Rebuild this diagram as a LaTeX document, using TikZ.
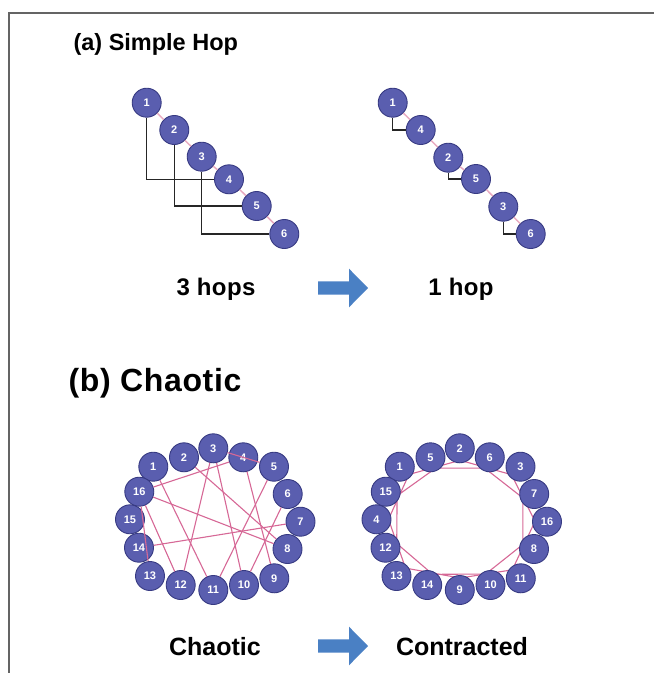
\documentclass[tikz,border=0pt]{standalone}
\usepackage{fontspec}
\setmainfont{Liberation Sans}
\usetikzlibrary{calc,backgrounds}

\definecolor{nodeblue}{RGB}{90,94,175}
\definecolor{nodeedge}{RGB}{55,58,130}
\definecolor{linkpink}{RGB}{214,104,150}
\definecolor{chainpink}{RGB}{232,170,192}
\definecolor{arrowblue}{RGB}{74,128,196}
\definecolor{framegray}{RGB}{100,100,100}

\begin{document}
\begin{tikzpicture}[x=1pt,y=-1pt,
    ball/.style={circle,fill=nodeblue,draw=nodeedge,line width=0.9pt,minimum size=29pt,
      inner sep=0pt,text=white,font=\bfseries\fontsize{11}{11}\selectfont},
    hop/.style={line width=1.3pt,black!85},
    chain/.style={line width=1.5pt,chainpink},
    link/.style={line width=1.1pt,linkpink},
    caption/.style={font=\bfseries\fontsize{24}{24}\selectfont\addfontfeature{LetterSpace=1.5}}]
  \useasboundingbox (0,0) rectangle (654,673);
  \draw[framegray,line width=1.6pt] (9,673) -- (9,13) -- (654,13);

  % (a) simple hop
  \node[anchor=west,font=\bfseries\fontsize{23.5}{24}\selectfont] (titlea) at (70,44) {(a) Simple Hop};
  \foreach \n/\x/\y in {1/146.7/102.7, 2/174.3/130, 3/201.7/156.7, 4/229/179.3, 5/256.7/206, 6/284.3/234}
    \node[ball] (a\n) at (\x,\y) {\n};
  \foreach \n/\x/\y in {1/392.7/102.7, 4/420.7/130, 2/448.3/157.7, 5/476/179, 3/503.3/206.7, 6/530.7/234}
    \node[ball] (b\n) at (\x,\y) {\n};
  \foreach \p/\q in {1/2,2/3,3/4,4/5,5/6} \draw[chain] (a\p) -- (a\q);
  \foreach \p/\q in {1/4,4/2,2/5,5/3,3/6} \draw[chain] (b\p) -- (b\q);
  \foreach \p/\q in {1/4,2/5,3/6} {
    \draw[hop] (a\p) |- (a\q);
    \draw[hop] (b\p) |- (b\q);
  }
  \node[caption] (hopsl) at (216,289) {3 hops};
  \node[caption] (hopsr) at (461,289) {1 hop};

  % block arrows
  \foreach \y in {288,646}
    \fill[arrowblue] (318,\y-6.7) -- (349,\y-6.7) -- (349,\y-19.3) -- (368,\y)
      -- (349,\y+19.3) -- (349,\y+6.7) -- (318,\y+6.7) -- cycle;

  % (b) chaotic
  \node[anchor=west,font=\bfseries\fontsize{32}{32}\selectfont\addfontfeature{LetterSpace=2}] (titleb) at (65,383) {(b) Chaotic};
  \foreach \x/\y [count=\i] in {153.3/466.7, 184/457.3, 213.3/448.3, 243.3/457.3, 274/466.7,
      287.7/494, 300.5/521.7, 287.5/549, 274.3/578.3, 244/585, 213.3/590, 180.7/585,
      150/576, 139/547.7, 130/519.3, 139.3/491.7}
    \coordinate (s\i) at (\x,\y);
  \foreach \i in {1,...,16}
    \node[ball] (c\i) at (s\i) {\i};
  \foreach \n [count=\i] in {1,5,2,6,3,7,16,8,11,10,9,14,13,12,4,15}
    \node[ball] (k\n) at ($(s\i)+(246.5,0)$) {\n};
  \foreach \p/\q in {16/4,16/8,16/12,16/13,1/11,2/8,3/5,3/12,3/10,4/9,5/11,6/10,7/14}
    \draw[link] (c\p) -- (c\q);

  % contracted ring, chords on the inner side
  \coordinate (kc) at (461.5,519);
  \foreach \n in {1,...,16}
    \coordinate (ki\n) at ($(k\n)!12pt!(kc)$);
  \begin{scope}[on background layer]
    \foreach \p/\q in {1/2,5/6,2/3,6/7,3/16,7/8,16/11,8/10,11/9,10/14,9/13,14/12,13/4,12/15,4/1,15/5}
      \draw[link] (ki\p) -- (ki\q);
  \end{scope}
  \node[caption,font=\bfseries\fontsize{25}{25}\selectfont] (chaos) at (215,647) {Chaotic};
  \node[caption,font=\bfseries\fontsize{25}{25}\selectfont] (contr) at (462,647) {Contracted};
\end{tikzpicture}
\end{document}
